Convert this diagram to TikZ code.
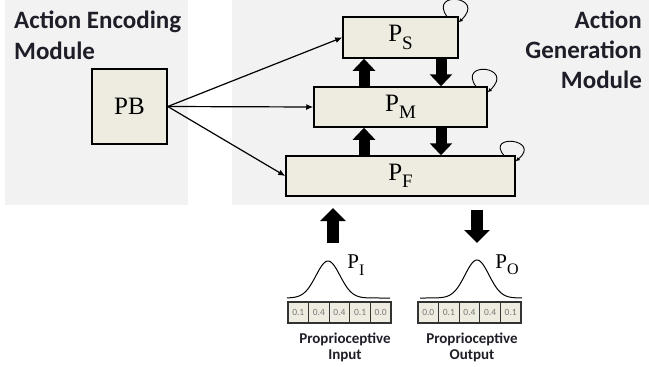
\documentclass[tikz,border=0pt]{standalone}
\usepackage{fontspec}
\setmainfont{Liberation Serif}
\newfontfamily\calibri{Carlito}
\usetikzlibrary{arrows.meta,calc}
\definecolor{panelgrey}{HTML}{F2F2F2}
\definecolor{tan}{HTML}{EEECE1}
\definecolor{cellgrey}{HTML}{777777}
\definecolor{inkblack}{HTML}{1E1E28}
\newcommand{\lowidx}[1]{\raisebox{-0.3em}{\fontsize{19}{19}\selectfont #1}}
\newcommand{\lowsmall}[1]{\raisebox{-0.3em}{\fontsize{16}{16}\selectfont #1}}

\tikzset{
  module/.style={fill=tan, draw=black, line width=1.5pt, inner sep=0pt, font=\fontsize{25}{25}\selectfont},
  heading/.style={font=\calibri\bfseries\fontsize{25}{31}\selectfont, inner sep=0pt, text=inkblack},
  feed/.style={line width=1.2pt, -{Latex[length=7pt,width=6pt]}},
  fatarrow/.style={line width=11pt, -{Triangle[length=12pt,width=22pt]}},
  bigarrow/.style={line width=12pt, -{Triangle[length=13pt,width=25pt]}},
  loopline/.style={line width=0.9pt, -{Latex[length=4pt,width=4pt]}},
  cell/.style={fill=tan, draw=black!80, line width=1.2pt, minimum width=20.6pt, minimum height=21pt, inner sep=0pt, font=\calibri\fontsize{9.5}{10}\selectfont, text=cellgrey},
  caption/.style={font=\calibri\bfseries\fontsize{15}{16}\selectfont, align=center, inner sep=0pt, text=inkblack},
  bell/.style={line width=1pt}
}

\begin{document}
\begin{tikzpicture}[x=1pt,y=-1pt]
      \useasboundingbox (0,0) rectangle (649,367);
      % the two grey modules
      \fill[panelgrey] (5,0) rectangle (188,205);
      \fill[panelgrey] (232,0) rectangle (649,205);
      \node[heading, anchor=north west, align=left] (enctitle) at (14,11) {Action Encoding\\Module};
      \node[heading, anchor=north east, align=right, font=\calibri\bfseries\fontsize{25}{30}\selectfont] (gentitle) at (642,11) {Action\\Generation\\Module};

      \node[module, minimum width=75pt, minimum height=75pt] (pb) at (129.5,106.5) {PB};
      \node[module, minimum width=115pt, minimum height=41pt] (ps) at (400.5,37.5) {P\lowidx{S}};
      \node[module, minimum width=173pt, minimum height=40pt] (pm) at (400.5,107) {P\lowidx{M}};
      \node[module, minimum width=229pt, minimum height=40pt] (pf) at (400.5,176) {P\lowidx{F}};

      \draw[feed] (pb.east) -- (ps.west);
      \draw[feed] (pb.east) -- (pm.west);
      \draw[feed] (pb.east) -- (pf.west);

      % bottom-up and top-down flow
      \coordinate (upx) at (364,0);
      \coordinate (downx) at (441,0);
      \draw[fatarrow] (pm.north -| upx) -- (ps.south -| upx);
      \draw[fatarrow] (ps.south -| downx) -- (pm.north -| downx);
      \draw[fatarrow] (pf.north -| upx) -- (pm.south -| upx);
      \draw[fatarrow] (pm.south -| downx) -- (pf.north -| downx);

      % recurrence
      \draw[loopline] ([xshift=-12pt]ps.north east) .. controls +(-18,-26) and +(28,-26) .. ([yshift=-6pt]ps.north east);
      \draw[loopline] ([xshift=-12pt]pm.north east) .. controls +(-18,-26) and +(28,-26) .. ([yshift=-6pt]pm.north east);
      \draw[loopline] ([xshift=-12pt]pf.north east) .. controls +(-18,-22) and +(26,-22) .. ([yshift=-6pt]pf.north east);

      % proprioception
      \coordinate (intail) at (333,243);
      \coordinate (inhead) at (333,208);
      \coordinate (outtail) at (477,210);
      \coordinate (outhead) at (477,243);
      \draw[bigarrow] (intail) -- (inhead);
      \draw[bigarrow] (outtail) -- (outhead);

      \draw[bell] plot[domain=287:390, samples=80] (\x, {298-37*exp(-((\x-328)^2)/288)});
      \draw[bell] plot[domain=420:522, samples=80] (\x, {298-38*exp(-((\x-477)^2)/288)});
      \node[font=\fontsize{21}{21}\selectfont, inner sep=0pt] (pi) at (356,265) {P\lowsmall{I}};
      \node[font=\fontsize{21}{21}\selectfont, inner sep=0pt] (po) at (507,265) {P\lowsmall{O}};

      \foreach \v [count=\i] in {0.1,0.4,0.4,0.1,0.0}
        \node[cell] (in\i) at (288+20.6*\i-10.3,312.5) {\v};
      \foreach \v [count=\i] in {0.0,0.1,0.4,0.4,0.1}
        \node[cell] (out\i) at (418+20.6*\i-10.3,312.5) {\v};

      \node[caption] (inlabel) at (345,347) {Proprioceptive\\Input};
      \node[caption] (outlabel) at (472,347) {Proprioceptive\\Output};
\end{tikzpicture}
\end{document}
